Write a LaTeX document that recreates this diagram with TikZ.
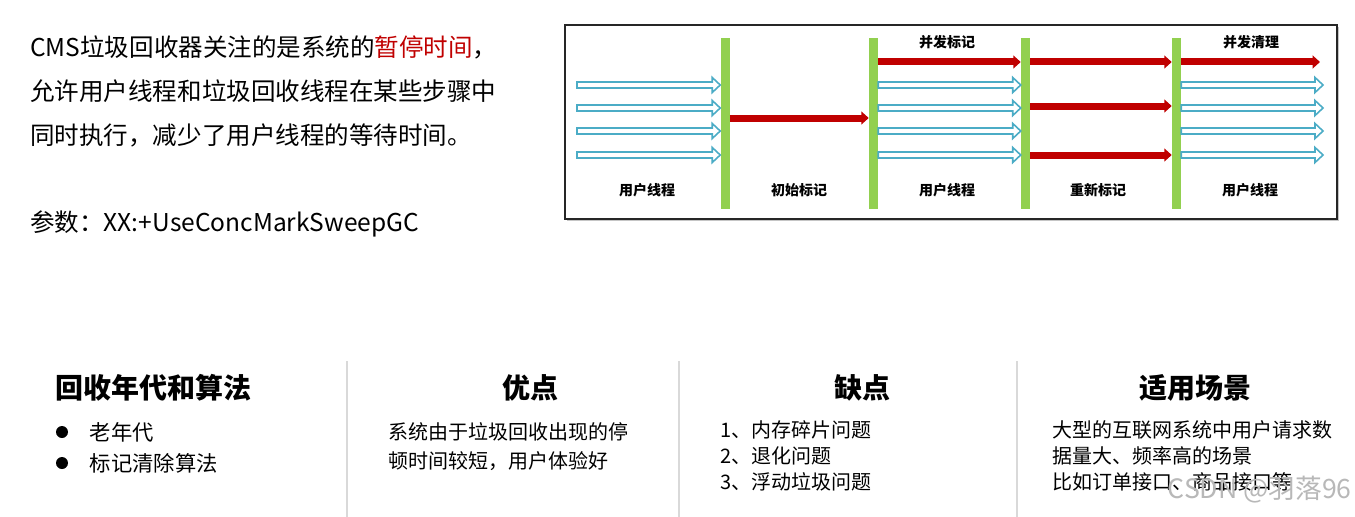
\documentclass[tikz,border=0pt]{standalone}
\usepackage{fontspec}
\setmainfont{Noto Sans CJK SC}
\usetikzlibrary{arrows.meta,positioning,calc,shadows}
\definecolor{barGreen}{HTML}{92D050}
\definecolor{threadBlue}{HTML}{4BACC6}
\definecolor{gcRed}{HTML}{C00000}
\definecolor{splitGray}{HTML}{D9D9D9}

\begin{document}
\begin{tikzpicture}[
  x=0.75pt, y=-0.75pt,
  every node/.style={inner sep=0pt},
  body/.style={font=\fontsize{18.4}{33}\selectfont, anchor=west, align=left},
  stage/.style={font=\fontsize{10.5}{12}\selectfont\bfseries},
  gbar/.style={fill=barGreen, minimum width=6.75pt, minimum height=128.25pt},
  hollow/.style={draw=threadBlue, line width=1.2pt, fill=white, line join=miter,
    to path={($(\tikztostart)+(0,-3)$) -- ($(\tikztotarget)+(-8,-3)$)
      -- ($(\tikztotarget)+(-8,-7.5)$) -- (\tikztotarget)
      -- ($(\tikztotarget)+(-8,7.5)$) -- ($(\tikztotarget)+(-8,3)$)
      -- ($(\tikztostart)+(0,3)$) -- cycle}},
  gc/.style={draw=gcRed, line width=5.25pt, -{Triangle[length=5.5pt,width=9.5pt]}},
  panel/.style={draw=black!85, line width=1pt, fill=white,
    drop shadow={shadow xshift=1.5pt, shadow yshift=-1.5pt, fill=black!45}},
  head/.style={font=\fontsize{21}{24}\selectfont\bfseries},
  item/.style={font=\fontsize{15}{19.5}\selectfont, anchor=west, align=left},
  dot/.style={circle, fill=black, minimum size=9pt},
  split/.style={draw=splitGray, line width=0.9pt},
  wmark/.style={font=\fontsize{20}{24}\selectfont, text=black!28}
]
  \useasboundingbox (0,0) rectangle (1355,517);

  % intro text
  \node[body] (intro) at (30,91) {CMS垃圾回收器关注的是系统的\textcolor{gcRed}{暂停时间}，\\
    允许用户线程和垃圾回收线程在某些步骤中\\
    同时执行，减少了用户线程的等待时间。};
  \node[body] (param) at (30,224) {参数：XX:+UseConcMarkSweepGC};

  % timeline panel
  \draw[panel] (565,25) rectangle (1337,219);

  \coordinate (rtop) at (0,62);
  \coordinate (r1) at (0,85);
  \coordinate (r2) at (0,108);
  \coordinate (r3) at (0,131);
  \coordinate (r4) at (0,155);
  \coordinate (rmid) at (0,118);
  \coordinate (rred) at (0,106);
  \coordinate (s0) at (577,0);
  \coordinate (eb) at (1323,0);
  \coordinate (er) at (1320,0);

  \node[gbar] (b1) at (725,123.5) {};
  \node[gbar] (b2) at (873.5,123.5) {};
  \node[gbar] (b3) at (1025.5,123.5) {};
  \node[gbar] (b4) at (1176.5,123.5) {};

  % user threads
  \foreach \r in {r1,r2,r3,r4} {
    \draw[hollow] (s0 |- \r) to (b1.west |- \r);
    \draw[hollow] (b2.east |- \r) to (b3.west |- \r);
    \draw[hollow] (b4.east |- \r) to (eb |- \r);
  }

  % gc threads
  \draw[gc] (b1.east |- rmid) -- (b2.west |- rmid);
  \draw[gc] (b2.east |- rtop) -- (b3.west |- rtop);
  \draw[gc] (b3.east |- rtop) -- (b4.west |- rtop);
  \draw[gc] (b3.east |- rred) -- (b4.west |- rred);
  \draw[gc] (b3.east |- r4) -- (b4.west |- r4);
  \draw[gc] (b4.east |- rtop) -- (er |- rtop);

  \node[stage] (u1) at (647,190) {用户线程};
  \node[stage] (init) at (799,190) {初始标记};
  \node[stage] (u2) at (947,190) {用户线程};
  \node[stage] (remark) at (1098,190) {重新标记};
  \node[stage] (u3) at (1250,190) {用户线程};
  \node[stage] (cmark) at (947,42) {并发标记};
  \node[stage] (csweep) at (1251,42) {并发清理};

  % summary columns
  \draw[split] (347,361) -- (347,517);
  \draw[split] (679,361) -- (679,517);
  \draw[split] (1017,361) -- (1017,517);

  \node[head, anchor=west] (h1) at (55,388) {回收年代和算法};
  \node[head] (h2) at (530,388) {优点};
  \node[head] (h3) at (862,388) {缺点};
  \node[head] (h4) at (1195,388) {适用场景};

  \node[dot] (d1) at (62,432) {};
  \node[dot] (d2) at (62,463) {};
  \node[item, font=\fontsize{16}{19}\selectfont, right=16pt of d1] (gen) {老年代};
  \node[item, font=\fontsize{16}{19}\selectfont, right=16pt of d2] (algo) {标记清除算法};

  \node[item, font=\fontsize{15}{21.75}\selectfont] (pro) at (388,446.5)
    {系统由于垃圾回收出现的停\\顿时间较短，用户体验好};
  \node[item] (con) at (720,456) {1、内存碎片问题\\2、退化问题\\3、浮动垃圾问题};
  \node[item] (use) at (1052,456) {大型的互联网系统中用户请求数\\据量大、频率高的场景\\比如订单接口、商品接口等};

  \node[wmark, anchor=east] (wm) at (1352,490) {CSDN @羽落96};
\end{tikzpicture}
\end{document}
